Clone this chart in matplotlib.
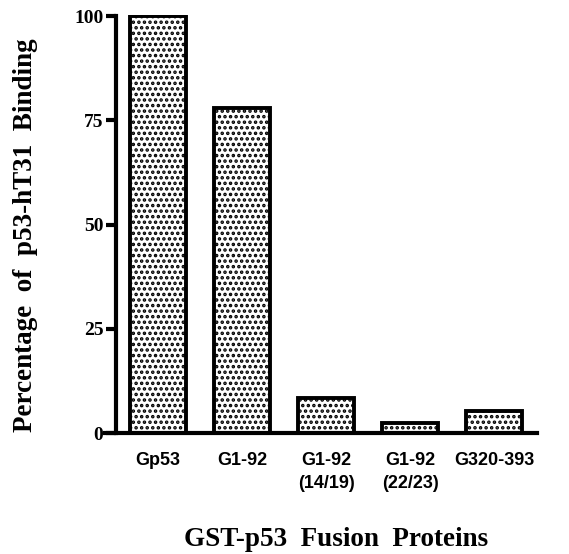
import matplotlib.pyplot as plt
import matplotlib as mpl

# dados
categories = ['Gp53', 'G1-92', 'G1-92\n(14/19)', 'G1-92\n(22/23)', 'G320-393']
binding_pct = [100, 78, 8.3, 2.4, 5.3]
y_ticks = [0, 25, 50, 75, 100]

mpl.rcParams['hatch.linewidth'] = 1.7

fig = plt.figure(figsize=(5.69, 5.54), dpi=100)
ax = fig.add_axes([105 / 569, 121 / 554, 432 / 569, 418 / 554])

x = range(len(categories))
ax.bar(x, binding_pct, width=0.67, color='white', edgecolor='black',
       linewidth=2.8, hatch='...', zorder=2)

ax.set_xlim(-0.63, 4.51)
ax.set_ylim(0, 100.3)

# eixos
for s in ['top', 'right']:
    ax.spines[s].set_visible(False)
ax.spines['left'].set_position(('data', -0.5))
ax.spines['left'].set_bounds(0, 100)
ax.spines['left'].set_linewidth(3)
ax.spines['bottom'].set_linewidth(3)

ax.set_yticks(y_ticks)
ax.set_yticklabels([str(v) for v in y_ticks], fontfamily='Liberation Serif',
                   fontweight='bold', fontsize=14)
ax.tick_params(axis='y', direction='out', length=7, width=3, pad=2)

ax.set_xticks(list(x))
ax.set_xticklabels(categories, fontfamily='Liberation Sans', fontweight='bold',
                   fontsize=13, linespacing=1.45)
ax.tick_params(axis='x', length=0, pad=14)

fig.text(336 / 569, 1 - 539 / 554, 'GST-p53  Fusion  Proteins', ha='center', va='center',
         fontfamily='Liberation Serif', fontweight='bold', fontsize=19.5)
fig.text(26 / 569, 1 - 235 / 554, 'Percentage  of  p53-hT31  Binding', ha='center', va='center',
         rotation=90, fontfamily='Liberation Serif', fontweight='bold', fontsize=19.5)

plt.savefig('out.png', dpi=100)
